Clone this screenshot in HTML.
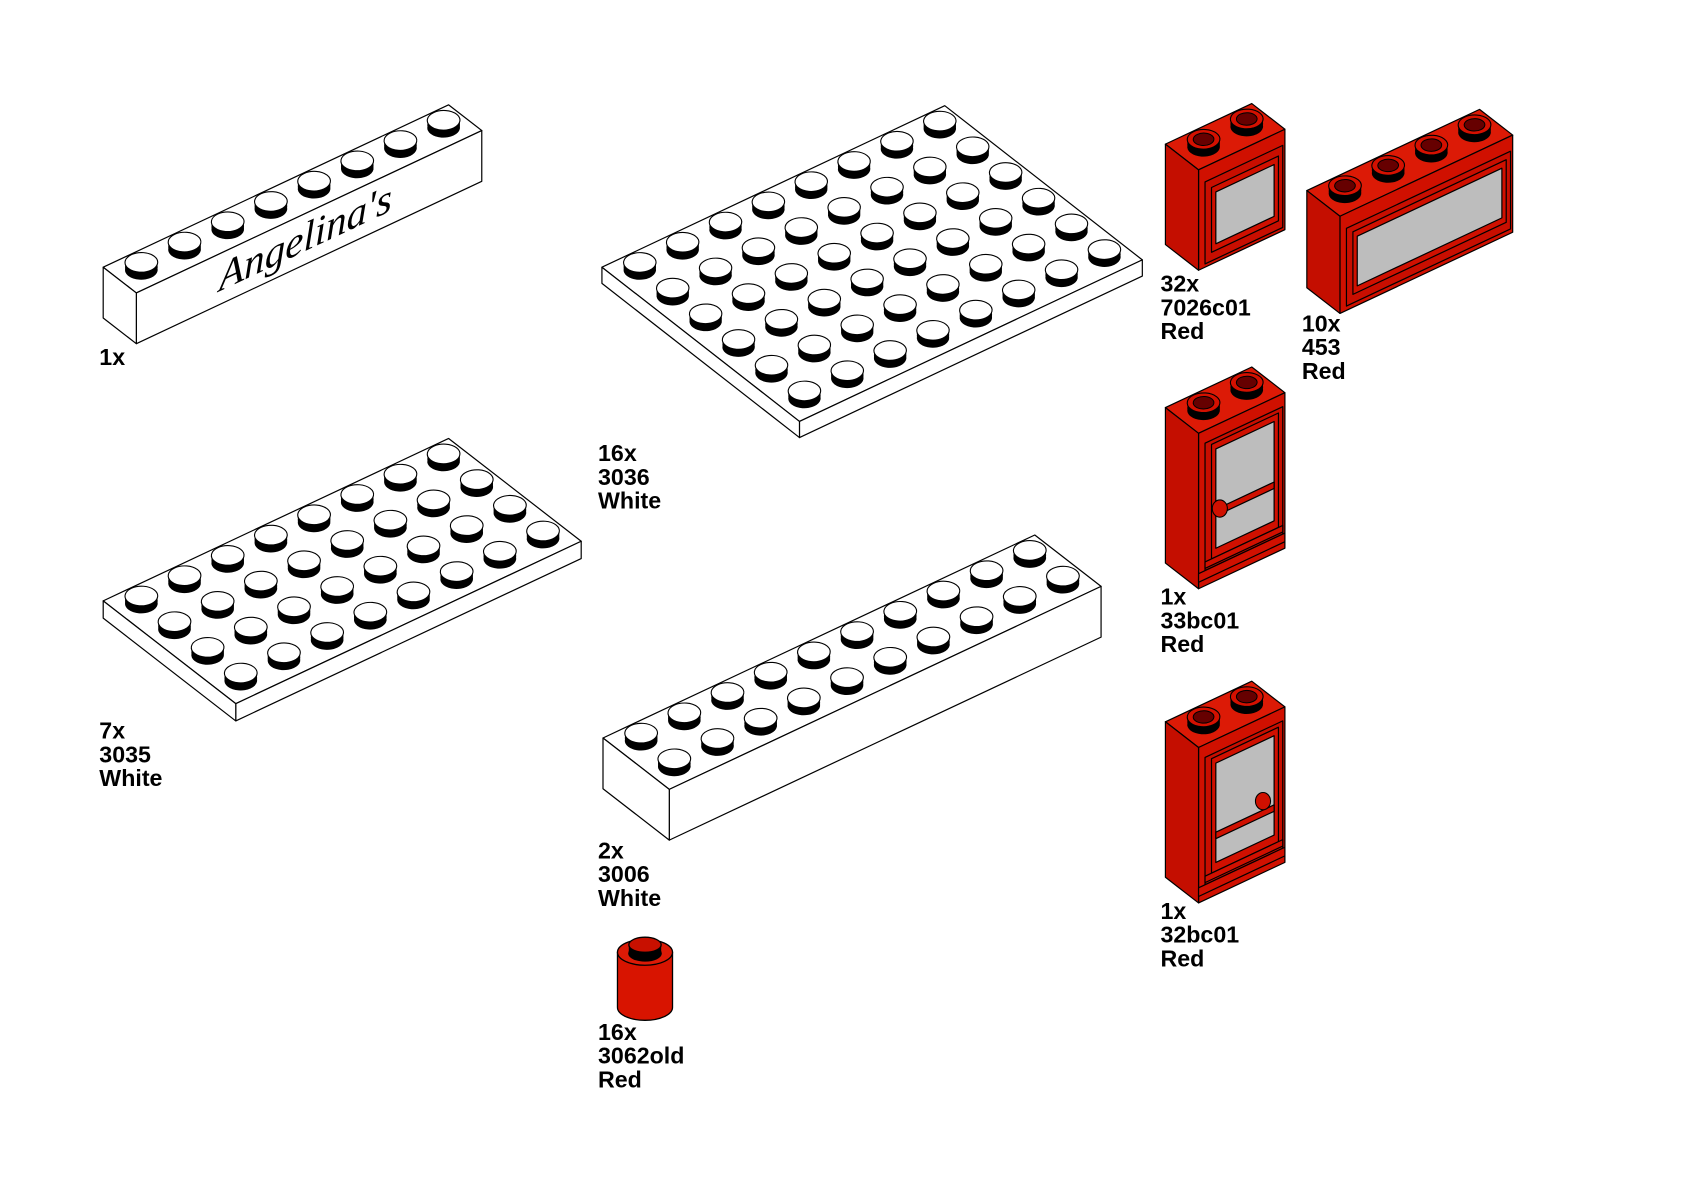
<!DOCTYPE html>
<html><head><meta charset="utf-8"><style>
html,body{margin:0;padding:0;background:#fff;}
svg{display:block;}
text.l{font-family:"Liberation Sans",Arial,sans-serif;font-weight:bold;font-size:21.5px;fill:#000;}
</style></head><body>
<svg width="1684" height="1192" viewBox="0 0 1560 1104" preserveAspectRatio="none" xmlns="http://www.w3.org/2000/svg">
<defs>
<g id="ws">
<circle r="0.3" fill="#000" stroke="none"/>
<circle r="0.3" fill="#000" stroke="none" transform="translate(0.05,-0.065)"/>
<circle r="0.3" fill="#000" stroke="none" transform="translate(0.1,-0.13)"/>
<circle r="0.3" fill="#fff" stroke="#000" stroke-width="1.1" vector-effect="non-scaling-stroke" transform="translate(0.1405,-0.1831)"/>
</g>
<g id="rs">
<circle r="0.3" fill="#000" stroke="none"/>
<circle r="0.3" fill="#000" stroke="none" transform="translate(0.05,-0.065)"/>
<circle r="0.3" fill="#000" stroke="none" transform="translate(0.1,-0.13)"/>
<circle r="0.3" fill="#d41000" stroke="#000" stroke-width="1.1" vector-effect="non-scaling-stroke" transform="translate(0.1405,-0.1831)"/>
<circle r="0.19" fill="#600" stroke="#000" stroke-width="1" vector-effect="non-scaling-stroke" transform="translate(0.1405,-0.1831)"/>
</g>
</defs>

<g stroke="#000" stroke-width="1.2" stroke-linejoin="round">
<g transform="matrix(40,-18.8,30.7,23.8,95.6,247.5)">
<polygon points="0,0 8,0 8,1 0,1" fill="#fff" vector-effect="non-scaling-stroke"/>
<polygon points="0,1 8,1 7.0564,2.2294 -0.9436,2.2294" fill="#fff" vector-effect="non-scaling-stroke"/>
<polygon points="0,0 0,1 -0.9436,2.2294 -0.9436,1.2294" fill="#fff" vector-effect="non-scaling-stroke"/>
<use href="#ws" x="0.5" y="0.5"/><use href="#ws" x="1.5" y="0.5"/><use href="#ws" x="2.5" y="0.5"/><use href="#ws" x="3.5" y="0.5"/><use href="#ws" x="4.5" y="0.5"/><use href="#ws" x="5.5" y="0.5"/><use href="#ws" x="6.5" y="0.5"/><use href="#ws" x="7.5" y="0.5"/>
</g>

<g transform="matrix(39.7,-18.7,30.5,23.8,557.6,247.5)">
<polygon points="0,0 8,0 8,6 0,6" fill="#fff" vector-effect="non-scaling-stroke"/>
<polygon points="0,6 8,6 7.6989,6.3924 -0.3011,6.3924" fill="#fff" vector-effect="non-scaling-stroke"/>
<polygon points="0,0 0,6 -0.3011,6.3924 -0.3011,0.3924" fill="#fff" vector-effect="non-scaling-stroke"/>
<use href="#ws" x="0.5" y="0.5"/><use href="#ws" x="1.5" y="0.5"/><use href="#ws" x="2.5" y="0.5"/><use href="#ws" x="3.5" y="0.5"/><use href="#ws" x="4.5" y="0.5"/><use href="#ws" x="5.5" y="0.5"/><use href="#ws" x="6.5" y="0.5"/><use href="#ws" x="7.5" y="0.5"/>
<use href="#ws" x="0.5" y="1.5"/><use href="#ws" x="1.5" y="1.5"/><use href="#ws" x="2.5" y="1.5"/><use href="#ws" x="3.5" y="1.5"/><use href="#ws" x="4.5" y="1.5"/><use href="#ws" x="5.5" y="1.5"/><use href="#ws" x="6.5" y="1.5"/><use href="#ws" x="7.5" y="1.5"/>
<use href="#ws" x="0.5" y="2.5"/><use href="#ws" x="1.5" y="2.5"/><use href="#ws" x="2.5" y="2.5"/><use href="#ws" x="3.5" y="2.5"/><use href="#ws" x="4.5" y="2.5"/><use href="#ws" x="5.5" y="2.5"/><use href="#ws" x="6.5" y="2.5"/><use href="#ws" x="7.5" y="2.5"/>
<use href="#ws" x="0.5" y="3.5"/><use href="#ws" x="1.5" y="3.5"/><use href="#ws" x="2.5" y="3.5"/><use href="#ws" x="3.5" y="3.5"/><use href="#ws" x="4.5" y="3.5"/><use href="#ws" x="5.5" y="3.5"/><use href="#ws" x="6.5" y="3.5"/><use href="#ws" x="7.5" y="3.5"/>
<use href="#ws" x="0.5" y="4.5"/><use href="#ws" x="1.5" y="4.5"/><use href="#ws" x="2.5" y="4.5"/><use href="#ws" x="3.5" y="4.5"/><use href="#ws" x="4.5" y="4.5"/><use href="#ws" x="5.5" y="4.5"/><use href="#ws" x="6.5" y="4.5"/><use href="#ws" x="7.5" y="4.5"/>
<use href="#ws" x="0.5" y="5.5"/><use href="#ws" x="1.5" y="5.5"/><use href="#ws" x="2.5" y="5.5"/><use href="#ws" x="3.5" y="5.5"/><use href="#ws" x="4.5" y="5.5"/><use href="#ws" x="5.5" y="5.5"/><use href="#ws" x="6.5" y="5.5"/><use href="#ws" x="7.5" y="5.5"/>
</g>

<g transform="matrix(40,-18.8,30.7,23.8,95.6,556.5)">
<polygon points="0,0 8,0 8,4 0,4" fill="#fff" vector-effect="non-scaling-stroke"/>
<polygon points="0,4 8,4 7.6788,4.4185 -0.3212,4.4185" fill="#fff" vector-effect="non-scaling-stroke"/>
<polygon points="0,0 0,4 -0.3212,4.4185 -0.3212,0.4185" fill="#fff" vector-effect="non-scaling-stroke"/>
<use href="#ws" x="0.5" y="0.5"/><use href="#ws" x="1.5" y="0.5"/><use href="#ws" x="2.5" y="0.5"/><use href="#ws" x="3.5" y="0.5"/><use href="#ws" x="4.5" y="0.5"/><use href="#ws" x="5.5" y="0.5"/><use href="#ws" x="6.5" y="0.5"/><use href="#ws" x="7.5" y="0.5"/>
<use href="#ws" x="0.5" y="1.5"/><use href="#ws" x="1.5" y="1.5"/><use href="#ws" x="2.5" y="1.5"/><use href="#ws" x="3.5" y="1.5"/><use href="#ws" x="4.5" y="1.5"/><use href="#ws" x="5.5" y="1.5"/><use href="#ws" x="6.5" y="1.5"/><use href="#ws" x="7.5" y="1.5"/>
<use href="#ws" x="0.5" y="2.5"/><use href="#ws" x="1.5" y="2.5"/><use href="#ws" x="2.5" y="2.5"/><use href="#ws" x="3.5" y="2.5"/><use href="#ws" x="4.5" y="2.5"/><use href="#ws" x="5.5" y="2.5"/><use href="#ws" x="6.5" y="2.5"/><use href="#ws" x="7.5" y="2.5"/>
<use href="#ws" x="0.5" y="3.5"/><use href="#ws" x="1.5" y="3.5"/><use href="#ws" x="2.5" y="3.5"/><use href="#ws" x="3.5" y="3.5"/><use href="#ws" x="4.5" y="3.5"/><use href="#ws" x="5.5" y="3.5"/><use href="#ws" x="6.5" y="3.5"/><use href="#ws" x="7.5" y="3.5"/>
</g>

<g transform="matrix(40,-18.8,30.7,23.8,558.6,683.5)">
<polygon points="0,0 10,0 10,2 0,2" fill="#fff" vector-effect="non-scaling-stroke"/>
<polygon points="0,2 10,2 9.0564,3.2294 -0.9436,3.2294" fill="#fff" vector-effect="non-scaling-stroke"/>
<polygon points="0,0 0,2 -0.9436,3.2294 -0.9436,1.2294" fill="#fff" vector-effect="non-scaling-stroke"/>
<use href="#ws" x="0.5" y="0.5"/><use href="#ws" x="1.5" y="0.5"/><use href="#ws" x="2.5" y="0.5"/><use href="#ws" x="3.5" y="0.5"/><use href="#ws" x="4.5" y="0.5"/><use href="#ws" x="5.5" y="0.5"/><use href="#ws" x="6.5" y="0.5"/><use href="#ws" x="7.5" y="0.5"/><use href="#ws" x="8.5" y="0.5"/><use href="#ws" x="9.5" y="0.5"/>
<use href="#ws" x="0.5" y="1.5"/><use href="#ws" x="1.5" y="1.5"/><use href="#ws" x="2.5" y="1.5"/><use href="#ws" x="3.5" y="1.5"/><use href="#ws" x="4.5" y="1.5"/><use href="#ws" x="5.5" y="1.5"/><use href="#ws" x="6.5" y="1.5"/><use href="#ws" x="7.5" y="1.5"/><use href="#ws" x="8.5" y="1.5"/><use href="#ws" x="9.5" y="1.5"/>
</g>

<g transform="matrix(40,-18.8,30.7,23.8,1079.6,133.5)">
<polygon points="0,0 2,0 2,1 0,1" fill="#dc1a06" vector-effect="non-scaling-stroke"/>
<polygon points="0,1 2,1 0.133,3.4326 -1.867,3.4326" fill="#d01000" vector-effect="non-scaling-stroke"/>
<polygon points="0,0 0,1 -1.867,3.4326 -1.867,2.4326" fill="#c40e00" vector-effect="non-scaling-stroke"/>
<use href="#rs" x="0.5" y="0.5"/><use href="#rs" x="1.5" y="0.5"/>
</g>
<g transform="matrix(40,-18.8,0,1,1110.3,157.3)">
<rect x="0.15" y="14" width="1.8" height="76" fill="#c80e00" vector-effect="non-scaling-stroke"/>
<rect x="0.3" y="22" width="1.55" height="60" fill="#d01000" vector-effect="non-scaling-stroke"/>
<rect x="0.4" y="28" width="1.35" height="48" fill="#bdbdbd" vector-effect="non-scaling-stroke"/>
</g>

<g transform="matrix(40,-18.8,30.7,23.8,1210.6,176.5)">
<polygon points="0,0 4,0 4,1 0,1" fill="#dc1a06" vector-effect="non-scaling-stroke"/>
<polygon points="0,1 4,1 2.1932,3.3541 -1.8068,3.3541" fill="#d01000" vector-effect="non-scaling-stroke"/>
<polygon points="0,0 0,1 -1.8068,3.3541 -1.8068,2.3541" fill="#c40e00" vector-effect="non-scaling-stroke"/>
<use href="#rs" x="0.5" y="0.5"/><use href="#rs" x="1.5" y="0.5"/><use href="#rs" x="2.5" y="0.5"/><use href="#rs" x="3.5" y="0.5"/>
</g>
<g transform="matrix(40,-18.8,0,1,1241.3,200.3)">
<rect x="0.15" y="14" width="3.8" height="72" fill="#c80e00" vector-effect="non-scaling-stroke"/>
<rect x="0.3" y="20" width="3.55" height="58" fill="#d01000" vector-effect="non-scaling-stroke"/>
<rect x="0.4" y="26" width="3.35" height="46" fill="#bdbdbd" vector-effect="non-scaling-stroke"/>
</g>

<g transform="matrix(40,-18.8,30.7,23.8,1079.6,377.5)">
<polygon points="0,0 2,0 2,1 0,1" fill="#dc1a06" vector-effect="non-scaling-stroke"/>
<polygon points="0,1 2,1 -0.891,4.7666 -2.891,4.7666" fill="#d01000" vector-effect="non-scaling-stroke"/>
<polygon points="0,0 0,1 -2.891,4.7666 -2.891,3.7666" fill="#c40e00" vector-effect="non-scaling-stroke"/>
<use href="#rs" x="0.5" y="0.5"/><use href="#rs" x="1.5" y="0.5"/>
</g>
<g transform="matrix(40,-18.8,0,1,1110.3,401.3)">
<rect x="0.15" y="12" width="1.8" height="118" fill="#c80e00" vector-effect="non-scaling-stroke"/>
<rect x="0.3" y="16" width="1.55" height="106" fill="#d01000" vector-effect="non-scaling-stroke"/>
<rect x="0.4" y="22" width="1.35" height="92" fill="#bdbdbd" vector-effect="non-scaling-stroke"/>
<rect x="0.4" y="78" width="1.35" height="6" fill="#d01000" vector-effect="non-scaling-stroke"/>
<rect x="0.15" y="122" width="1.8" height="6" fill="#d01000" vector-effect="non-scaling-stroke"/>
<rect x="0" y="130" width="2" height="8" fill="#d01000" vector-effect="non-scaling-stroke"/>
</g>
<ellipse cx="1130" cy="471" rx="7" ry="8" fill="#d01000" stroke="#000" stroke-width="1"/>

<g transform="matrix(40,-18.8,30.7,23.8,1079.6,668.5)">
<polygon points="0,0 2,0 2,1 0,1" fill="#dc1a06" vector-effect="non-scaling-stroke"/>
<polygon points="0,1 2,1 -0.891,4.7666 -2.891,4.7666" fill="#d01000" vector-effect="non-scaling-stroke"/>
<polygon points="0,0 0,1 -2.891,4.7666 -2.891,3.7666" fill="#c40e00" vector-effect="non-scaling-stroke"/>
<use href="#rs" x="0.5" y="0.5"/><use href="#rs" x="1.5" y="0.5"/>
</g>
<g transform="matrix(40,-18.8,0,1,1110.3,692.3)">
<rect x="0.15" y="12" width="1.8" height="118" fill="#c80e00" vector-effect="non-scaling-stroke"/>
<rect x="0.3" y="16" width="1.55" height="106" fill="#d01000" vector-effect="non-scaling-stroke"/>
<rect x="0.4" y="22" width="1.35" height="92" fill="#bdbdbd" vector-effect="non-scaling-stroke"/>
<rect x="0.4" y="86" width="1.35" height="6" fill="#d01000" vector-effect="non-scaling-stroke"/>
<rect x="0.15" y="122" width="1.8" height="6" fill="#d01000" vector-effect="non-scaling-stroke"/>
<rect x="0" y="130" width="2" height="8" fill="#d01000" vector-effect="non-scaling-stroke"/>
</g>
<ellipse cx="1170" cy="742" rx="7" ry="8" fill="#d01000" stroke="#000" stroke-width="1"/>

<path d="M572,882 L572,933 A25.5,12 0 0 0 623,933 L623,882 Z" fill="#d81400"/>
<ellipse cx="597.5" cy="882" rx="25.5" ry="12" fill="#dc1a06"/>
<ellipse cx="597.5" cy="883" rx="15" ry="7" fill="#000"/>
<rect x="582.5" y="875" width="30" height="8" fill="#000" stroke="none"/>
<ellipse cx="597.5" cy="875" rx="15" ry="7" fill="#c81000"/>
</g>

<text transform="matrix(1,-0.47,0,1,203,270)" font-family="Liberation Serif,serif" font-style="italic" font-size="38" fill="#000">Angelina's</text>

<g transform="translate(-3,-2)">
<text class="l" x="95" y="340">1x</text>
<text class="l" x="95" y="686">7x</text><text class="l" x="95" y="708">3035</text><text class="l" x="95" y="730">White</text>
<text class="l" x="557" y="429">16x</text><text class="l" x="557" y="451">3036</text><text class="l" x="557" y="473">White</text>
<text class="l" x="557" y="797">2x</text><text class="l" x="557" y="819">3006</text><text class="l" x="557" y="841">White</text>
<text class="l" x="557" y="965">16x</text><text class="l" x="557" y="987">3062old</text><text class="l" x="557" y="1009">Red</text>
<text class="l" x="1078" y="272">32x</text><text class="l" x="1078" y="294">7026c01</text><text class="l" x="1078" y="316">Red</text>
<text class="l" x="1209" y="309">10x</text><text class="l" x="1209" y="331">453</text><text class="l" x="1209" y="353">Red</text>
<text class="l" x="1078" y="562">1x</text><text class="l" x="1078" y="584">33bc01</text><text class="l" x="1078" y="606">Red</text>
<text class="l" x="1078" y="853">1x</text><text class="l" x="1078" y="875">32bc01</text><text class="l" x="1078" y="897">Red</text>
</g>
</svg>
</body></html>
